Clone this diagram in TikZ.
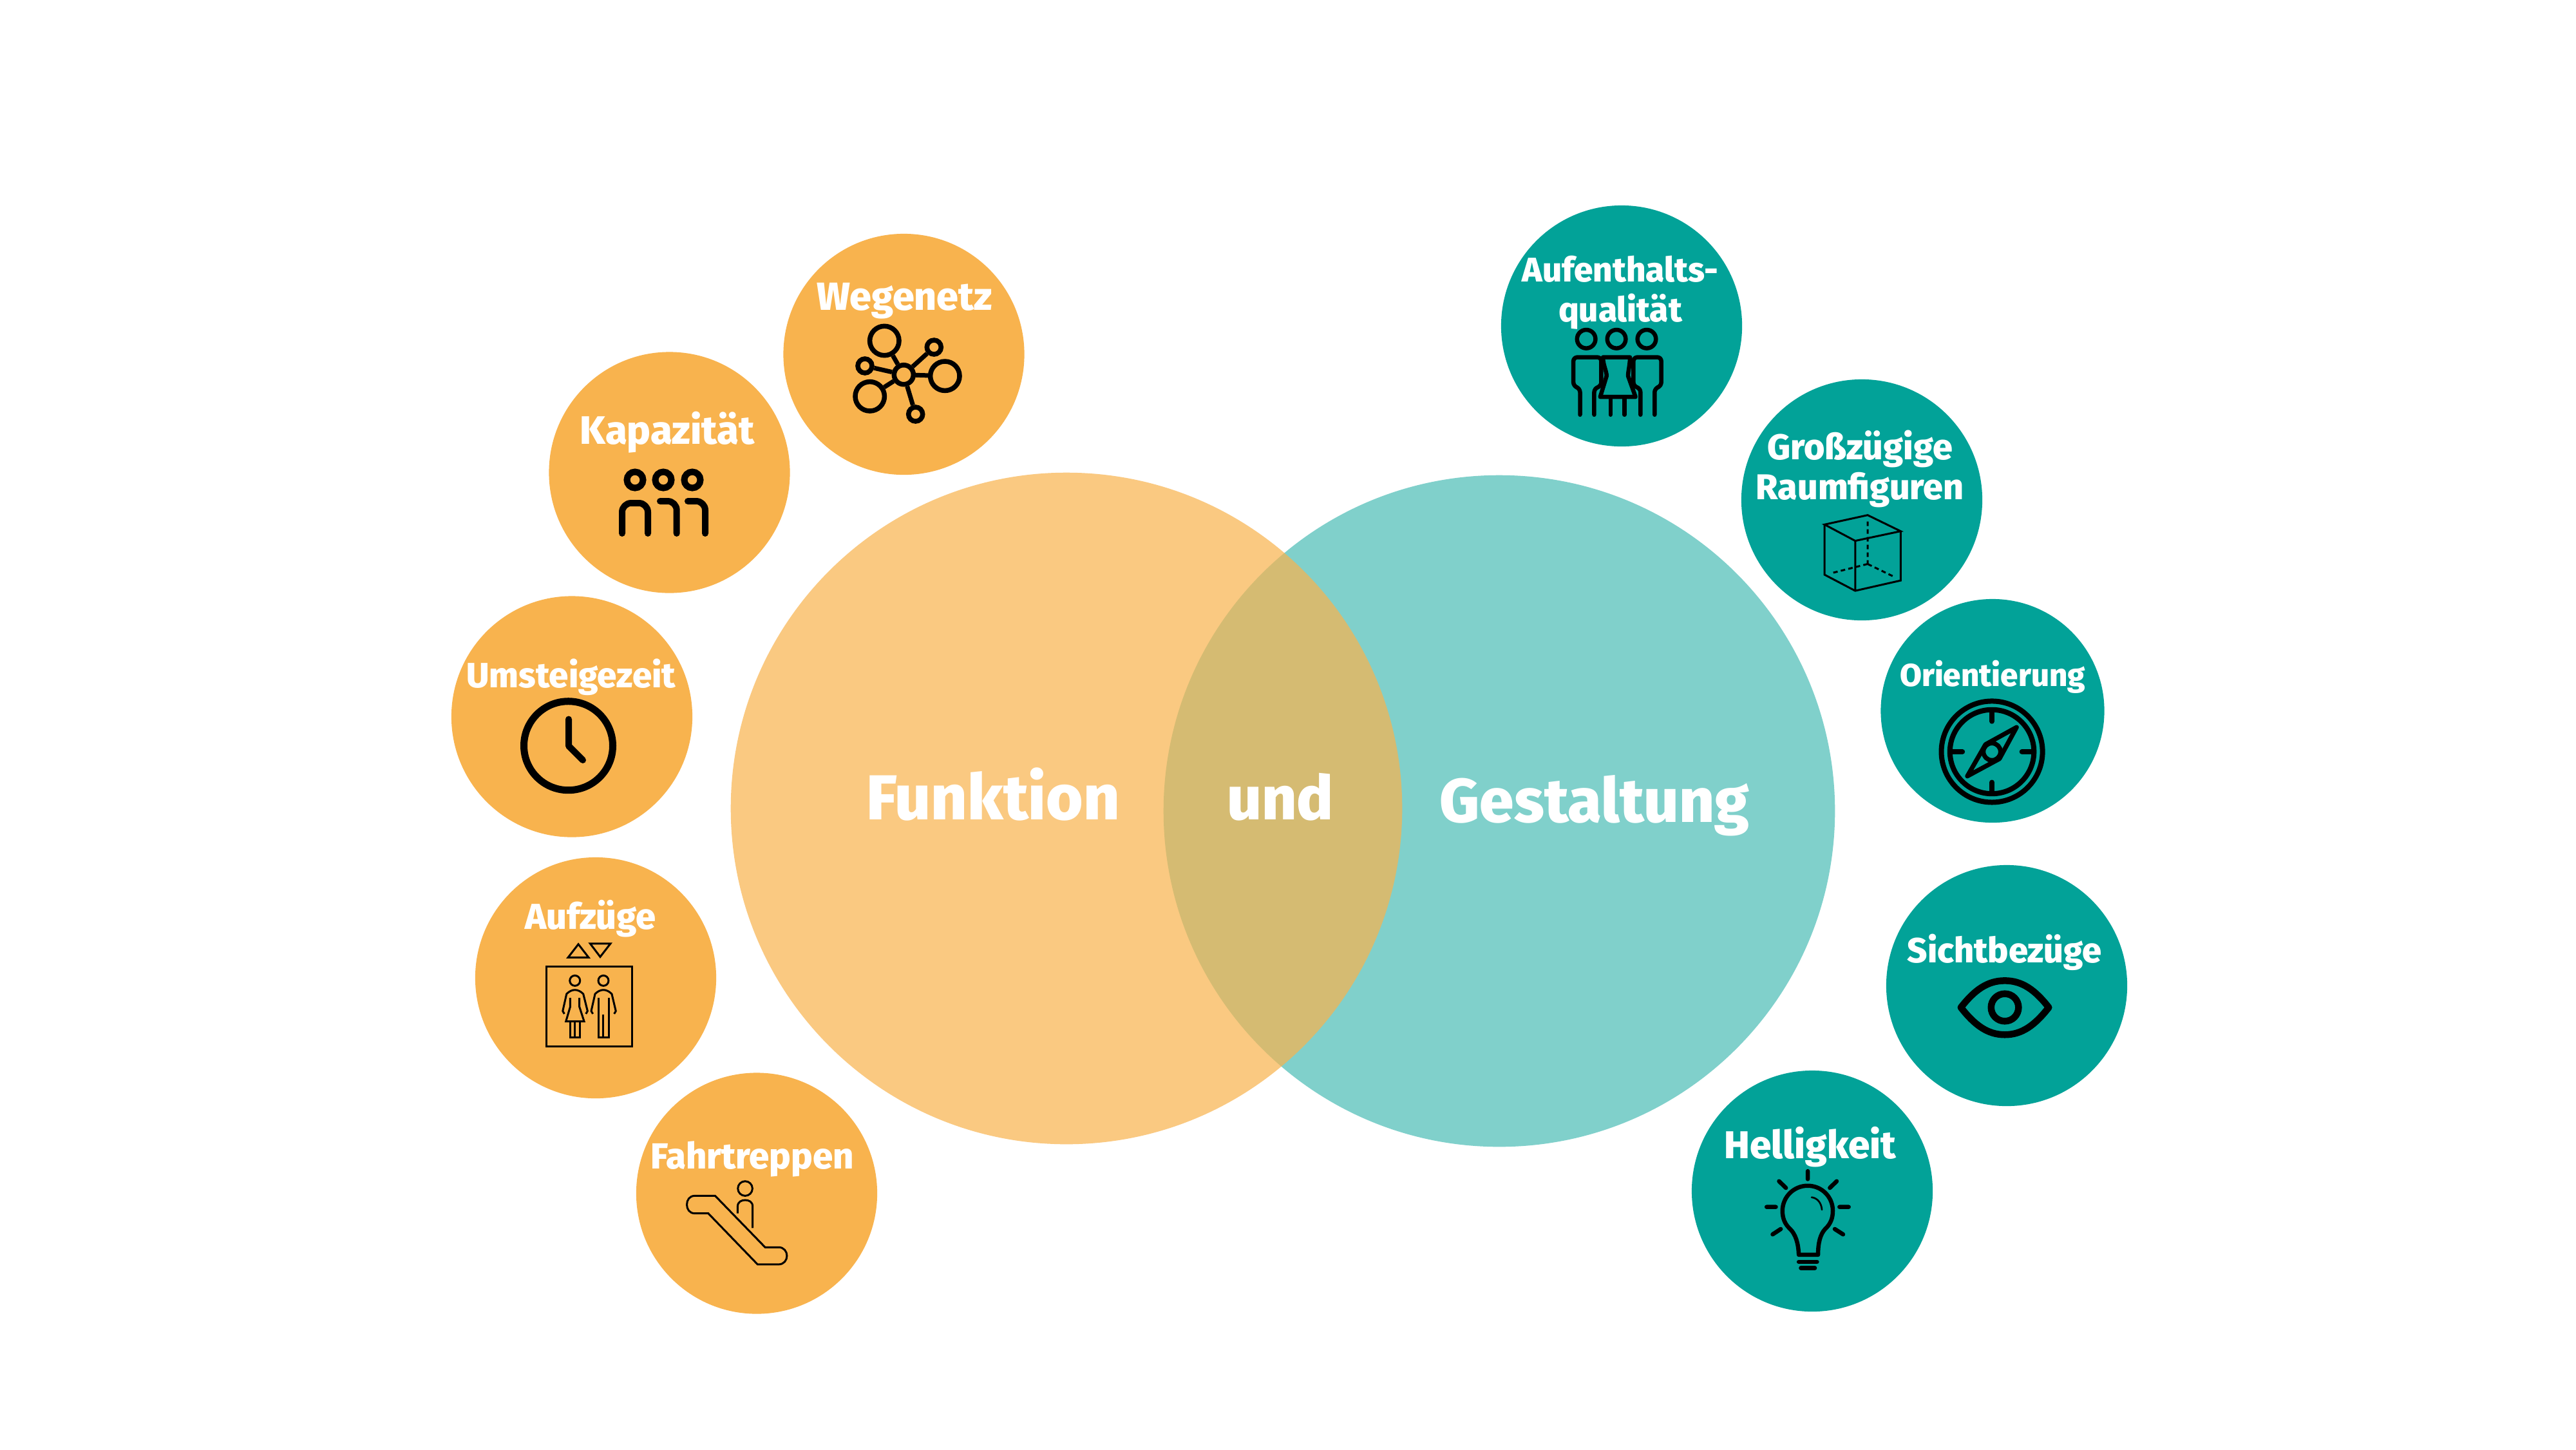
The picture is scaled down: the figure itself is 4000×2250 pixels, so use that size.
\documentclass[tikz,border=0pt]{standalone}
\usepackage{fontspec}
\setmainfont{Fira Sans}[BoldFont={Fira Sans ExtraBold}]
\usetikzlibrary{shapes,arrows,positioning}

\definecolor{funkorange}{HTML}{F8B34E}
\definecolor{gestteal}{HTML}{02A298}

\begin{document}
\begin{tikzpicture}[
    x=0.01cm, y=-0.01cm,
    bigfunk/.style={circle, fill=funkorange, opacity=0.71, minimum size=10.42cm, inner sep=0pt},
    biggest/.style={circle, fill=gestteal, opacity=0.5, minimum size=10.42cm, inner sep=0pt},
    funk/.style={circle, fill=funkorange, minimum size=3.74cm, inner sep=0pt},
    gest/.style={circle, fill=gestteal, minimum size=3.74cm, inner sep=0pt},
    title/.style={anchor=base, text=white, inner sep=0pt, font=\bfseries\fontsize{#1}{#1}\selectfont},
    tag/.style={anchor=base, text=white, inner sep=0pt, align=center, font=\bfseries\fontsize{#1}{17.36}\selectfont},
    ring/.style={circle, draw=black, inner sep=0pt, line width=#1},
    icon/.style={draw=black, line width=#1, line cap=round, line join=round},
    zoomed/.style 2 args={shift={(#1,#2)}, x=0.0033333cm, y=-0.0033333cm}
]
\useasboundingbox (0,0) rectangle (4000,2250);
\fill[white] (0,0) rectangle (4000,2250);

% Large circles
\node[biggest] (gestaltung) at (2328,1259) {};
\node[bigfunk] (funktion) at (1656,1255) {};
\node[title=28] (funktionlabel) at (1542,1272) {Funktion};
\node[title=27] (undlabel) at (1988,1272) {und};
\node[title=27.3] (gestaltunglabel) at (2476,1276) {Gestaltung};

% Small circles left
\node[funk] (wegenetz) at (1403.5,550) {};
\node[funk] (kapazitaet) at (1039.5,733.5) {};
\node[funk] (umsteigezeit) at (888,1112.5) {};
\node[funk] (aufzuege) at (925,1518) {};
\node[funk] (fahrtreppen) at (1175,1852.5) {};
\node[tag=17.3] (wegenetzlabel) at (1404.5,481) {Wegenetz};
\node[tag=17.5] (kapazitaetlabel) at (1036,689) {Kapazität};
\node[tag=15.5] (umsteigezeitlabel) at (887,1067) {Umsteigezeit};
\node[tag=15.9] (aufzuegelabel) at (917,1442) {Aufzüge};
\node[tag=16] (fahrtreppenlabel) at (1168,1814) {Fahrtreppen};

% Small circles right
\node[gest] (aufenthalt) at (2518,506) {};
\node[gest] (raumfiguren) at (2891,776) {};
\node[gest, minimum size=3.47cm] (orientierung) at (3094,1103.5) {};
\node[gest] (sichtbezuege) at (3116,1530) {};
\node[gest] (helligkeit) at (2814,1849) {};
\node[tag=15.1] (aufenthaltlabel) at (2516,499) {Aufenthalts-\\qualität};
\node[tag=15.8] (raumfigurenlabel) at (2888,775) {Großzügige\\Raumfiguren};
\node[tag=14] (orientierunglabel) at (3094,1065) {Orientierung};
\node[tag=15.4] (sichtbezuegelabel) at (3112.5,1494) {Sichtbezüge};
\node[tag=17.1] (helligkeitlabel) at (2811,1798) {Helligkeit};

% Wegenetz icon
\node[ring=0.075cm, minimum size=0.30cm] (hub) at (1403.3,581.7) {};
\node[ring=0.075cm, minimum size=0.454cm] (netA) at (1373.3,529) {};
\node[ring=0.075cm, minimum size=0.22cm] (netB) at (1450.3,539) {};
\node[ring=0.075cm, minimum size=0.454cm] (netC) at (1467.3,583.7) {};
\node[ring=0.075cm, minimum size=0.22cm] (netD) at (1421.7,643) {};
\node[ring=0.075cm, minimum size=0.454cm] (netE) at (1350.7,615.3) {};
\node[ring=0.075cm, minimum size=0.22cm] (netF) at (1343,568) {};
\foreach \n in {netA,netB,netC,netD,netE,netF}
    \draw[line width=0.07cm] (hub) -- (\n);

% Kapazitaet icon
\foreach \x in {986,1030,1075}
    \draw[line width=0.1cm] (\x,745) circle (12.5);
\draw[icon=0.1cm, rounded corners=0.14cm] (966,828) -- (966,781) -- (1006,781) -- (1006,828);
\draw[icon=0.1cm, rounded corners=0.14cm] (1025,778) -- (1050.7,778) -- (1050.7,828);
\draw[icon=0.1cm, rounded corners=0.14cm] (1068,778) -- (1095,778) -- (1095,828);

% Clock icon
\draw[line width=0.11cm] (882.5,1157.7) circle (69);
\draw[icon=0.1cm] (883,1116.5) -- (883,1158) -- (905,1180);

% Aufzuege icon
\begin{scope}[zoomed={720}{1320}, line width=0.03cm]
\draw (487,500) -- (583,500) -- (535,438) -- cycle;
\draw (590,435) -- (685,435) -- (637,497) -- cycle;
\draw (385,542) rectangle (786,915);
\draw (519,608) circle (24);
\draw (652,608) circle (24);
\draw[line join=round] (470,763) -- (462,750) -- (480,670) .. controls (505,645) and (533,645) .. (558,670) -- (578,750) -- (570,763);
\draw (497,688) -- (497,730) -- (477,798) -- (562,798) -- (540,730) -- (540,688);
\draw (497,798) -- (497,873) -- (543,873) -- (543,798) (519,798) -- (519,873);
\draw[line join=round] (603,763) -- (595,750) -- (613,670) .. controls (638,645) and (666,645) .. (691,670) -- (710,750) -- (702,763);
\draw (630,688) -- (630,873) -- (677,873) -- (677,688) (652,765) -- (652,873);
\end{scope}

% Fahrtreppen icon
\begin{scope}[zoomed={980}{1660}, line width=0.03cm]
\draw (392,590) -- (297,590) .. controls (272,590) and (260,610) .. (260,631) .. controls (260,652) and (272,672) .. (297,672) -- (360,672) -- (590,910) -- (688,910) .. controls (713,910) and (727,890) .. (727,870) .. controls (727,850) and (713,830) .. (688,830) -- (625,830) -- cycle;
\draw (532,556) circle (34);
\draw (497,672) -- (497,640) .. controls (497,618) and (515,610) .. (532,610) .. controls (550,610) and (567,618) .. (567,640) -- (567,740);
\end{scope}

% Aufenthalt icon
\begin{scope}[zoomed={2330}{310}]
\foreach \x in {400,541,682}
    \draw[line width=0.065cm] (\x,650) circle (43);
\draw[icon=0.065cm, rounded corners=0.06cm] (371,1003) -- (371,880) -- (340,870) -- (340,735) -- (470,735) -- (470,870) -- (437,880) -- (437,1003);
\draw[icon=0.065cm, rounded corners=0.06cm] (719,1003) -- (719,880) -- (750,870) -- (750,735) -- (620,735) -- (620,870) -- (653,880) -- (653,1003);
\draw[icon=0.065cm, fill=gestteal] (478,735) -- (604,735) .. controls (604,770) and (595,800) .. (595,822) -- (630,920) -- (465,920) -- (495,822) .. controls (495,800) and (478,770) .. (478,735);
\draw[icon=0.065cm] (513,925) -- (513,1003) (578,925) -- (578,1003);
\end{scope}

% Raumfiguren icon
\begin{scope}[zoomed={2710}{580}, line width=0.03cm]
\draw (370,704) -- (571,660) -- (725,735) -- (513,780) -- cycle;
\draw (370,704) -- (370,938) -- (513,1013) -- (725,965) -- (725,735) (513,780) -- (513,1013);
\draw[dash pattern=on 0.07cm off 0.05cm] (571,690) -- (571,888) (571,888) -- (405,930) (571,888) -- (695,948);
\end{scope}

% Orientierung icon
\begin{scope}[zoomed={2920}{930}]
\draw[line width=0.08cm] (520,712) circle (236);
\draw[line width=0.08cm] (520,712) circle (196);
\draw[icon=0.08cm] (520,530) -- (520,570) (520,895) -- (520,855) (338,712) -- (382,712) (702,712) -- (660,712);
\draw[icon=0.07cm] (635,598) -- (490,678) -- (405,826) -- (555,745) -- cycle;
\draw[line width=0.07cm, fill=gestteal] (520,712) circle (40);
\end{scope}

% Sichtbezuege icon
\begin{scope}[zoomed={2930}{1340}]
\draw[icon=0.105cm] (345,673) .. controls (410,590) and (470,548) .. (550,548) .. controls (630,548) and (690,590) .. (755,673) .. controls (690,756) and (630,800) .. (550,800) .. controls (470,800) and (410,756) .. cycle;
\draw[line width=0.105cm] (550,673) circle (64);
\end{scope}

% Helligkeit icon
\begin{scope}[zoomed={2630}{1660}]
\draw[icon=0.065cm] (490,865) .. controls (488,810) and (475,770) .. (450,745) .. controls (425,722) and (414,695) .. (414,660) .. controls (414,595) and (467,543) .. (532,543) .. controls (597,543) and (649,595) .. (649,660) .. controls (649,695) and (638,722) .. (613,745) .. controls (590,770) and (580,810) .. (580,865) -- cycle;
\draw[icon=0.065cm] (490,898) -- (575,898) (500,927) -- (565,927);
\draw[icon=0.065cm] (532,475) -- (532,512) (398,522) -- (430,553) (667,522) -- (635,553) (340,642) -- (383,642) (680,642) -- (723,642) (368,770) -- (406,745) (697,770) -- (658,745);
\draw[icon=0.027cm] (550,597) .. controls (578,600) and (596,625) .. (598,655);
\end{scope}

\end{tikzpicture}
\end{document}
